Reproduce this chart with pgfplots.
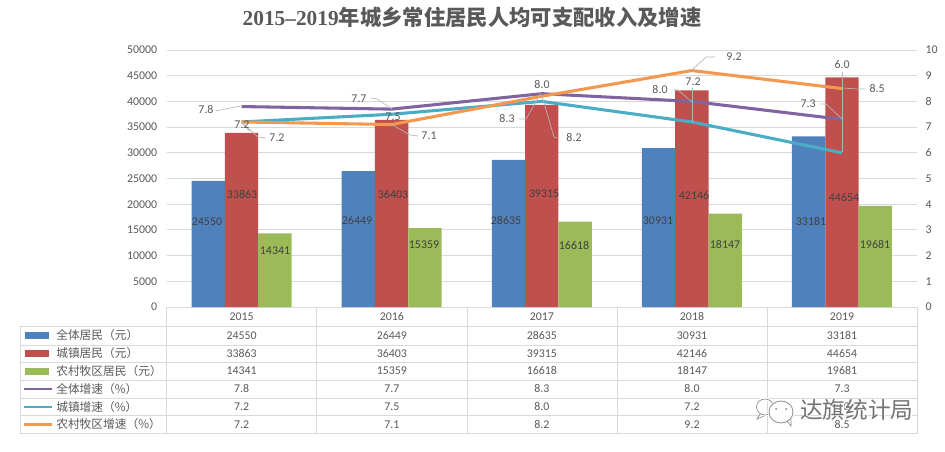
\documentclass[border=0pt]{standalone}
\usepackage{fontspec}
\setmainfont{Carlito}
\newfontfamily\cjk{Noto Sans CJK SC}
\newfontfamily\cjkhalo[FakeBold=5]{Noto Sans CJK SC}
\newfontfamily\titlelatin{Liberation Serif}
\usepackage{pgfplots}
\pgfplotsset{compat=1.18}
\usepackage{pgfplotstable}

\definecolor{cAll}{HTML}{4F81BD}
\definecolor{cUrban}{HTML}{C0504D}
\definecolor{cRural}{HTML}{9BBB59}
\definecolor{cAllG}{HTML}{8064A2}
\definecolor{cUrbanG}{HTML}{4BACC6}
\definecolor{cRuralG}{HTML}{F2994F}
\definecolor{cText}{HTML}{595959}
\definecolor{cGrid}{HTML}{D9D9D9}
\definecolor{cLead}{HTML}{B5B5B5}

\pgfplotstableread{
x  all   urban rural gall gurban grural
0  24550 33863 14341 7.8  7.2    7.2
1  26449 36403 15359 7.7  7.5    7.1
2  28635 39315 16618 8.3  8.0    8.2
3  30931 42146 18147 8.0  7.2    9.2
4  33181 44654 19681 7.3  6.0    8.5
}\incomedata

\pgfplotsset{base/.style={
    at={(124.875pt,108pt)}, anchor=south west,
    scale only axis, width=562.875pt, height=192.75pt,
    xmin=-0.5, xmax=4.5, xtick=\empty,
    ymin=0,
    tick style={draw=none},
    axis line style={draw=none},
    y tick label style={font=\fontsize{8.9}{10}\selectfont, text=cText},
    /pgf/number format/assume math mode=true,
    /pgf/number format/1000 sep={},
}}

\begin{document}
\begin{tikzpicture}
\path[use as bounding box] (0,0) rectangle (708.75pt,338.25pt);

% columns on the income scale
\begin{axis}[base,
    ymax=50000, ytick={0,5000,...,50000},
    scaled y ticks=false,
    axis y line*=left,
    ymajorgrids, grid style={cGrid, line width=0.7pt},
    ybar=0pt, bar width=25pt,
    y tick label style={xshift=-3.5pt},
]
\addplot[draw=none, fill=cAll] table[x=x, y=all] {\incomedata};
\addplot[draw=none, fill=cUrban] table[x=x, y=urban] {\incomedata};
\addplot[draw=none, fill=cRural] table[x=x, y=rural] {\incomedata};
\end{axis}

% growth lines on the right scale
\begin{axis}[base,
    ymax=10, ytick={0,1,...,10},
    axis y line*=right,
    axis x line=none,
    y tick label style={xshift=3pt},
    every axis plot/.append style={line width=2.3pt, line join=round, no marks},
]
\addplot[cUrbanG] table[x=x, y=gurban] {\incomedata};
\addplot[cAllG] table[x=x, y=gall] {\incomedata};
\addplot[cRuralG] table[x=x, y=grural] {\incomedata};
\end{axis}

\begin{scope}[x=0.75pt, y=-0.75pt, yshift=338.25pt,
    lbl/.style={font=\fontsize{8.9}{10}\selectfont, text=#1, inner sep=0pt, text height=5.8pt, text depth=0pt},
    lbl/.default=cText,
    lead/.style={cLead, line width=0.5pt},
    cn/.style={font=\cjk\fontsize{8.8}{10}\selectfont, text=cText, inner sep=0pt, anchor=west}]

% title
\node[inner sep=0pt, text=cText] at (472,17)
  {\fontsize{16}{18}\selectfont\titlelatin\bfseries 2015–2019{\cjk\bfseries 年城乡常住居民人均可支配收入及增速}};

% leader lines
\draw[lead] (216,111) -- (240,106);
\draw[lead] (247,129) -- (250,131) -- (241,122);
\draw[lead] (266,138) -- (258,137) -- (241,122);
\draw[lead] (371,98) -- (377,99) -- (392,109);
\draw[lead] (418,136) -- (410,135) -- (391,124);
\draw[lead] (519,119) -- (526,119) -- (541,93);
\draw[lead] (557,138) -- (554,137) -- (542,96);
\draw[lead] (715,57) -- (706,57) -- (692,70);
\draw[lead] (673,90) -- (678,90) -- (692,102);
\draw[lead] (692,88) -- (692,122);
\draw[lead] (842,72) -- (842,152);
\draw[lead] (820,104) -- (826,104) -- (842,119);
\draw[lead] (865,89) -- (858,89) -- (842,88);

% growth labels
\foreach \x/\y/\t in {206/110/7.8, 242/125/7.2, 277/138/7.2,
    359/99/7.7, 393/117/7.5, 429/136/7.1,
    507/119/8.3, 542/85/8.0, 574/138/8.2,
    660/90/8.0, 693/82/7.2, 734/57/9.2,
    808/104/7.3, 842/65/6.0, 877/89/8.5}
  \node[lbl] at (\x,\y) {\t};

% value labels on the columns
\foreach \x/\y/\t in {207/222/24550, 242/195/33863, 275/251/14341,
    357/221/26449, 393/195/36403, 424/245/15359,
    506/221/28635, 544/194/39315, 574/246/16618,
    658/221/30931, 694/196/42146, 725/245/18147,
    811/222/33181, 844/198/44654, 875/245/19681}
  \node[lbl=black!75] at (\x,\y) {\t};

% data table
\draw[cGrid, line width=0.7pt] (20,326.7) rectangle (917,433);
\foreach \y in {345,362.5,380.5,398,415.5}
  \draw[cGrid, line width=0.7pt] (20,\y) -- (917,\y);
\foreach \x in {166.5,316.7,467.5,617,767,917}
  \draw[cGrid, line width=0.7pt] (\x,307) -- (\x,433);

\foreach \x/\yr/\a/\b/\c/\d/\e/\f in {
    241.6/2015/24550/33863/14341/7.8/7.2/7.2,
    391.8/2016/26449/36403/15359/7.7/7.5/7.1,
    541.8/2017/28635/39315/16618/8.3/8.0/8.2,
    692/2018/30931/42146/18147/8.0/7.2/9.2,
    842/2019/33181/44654/19681/7.3/6.0/8.5} {
  \node[lbl] at (\x,317) {\yr};
  \node[lbl] at (\x,335.5) {\a};
  \node[lbl] at (\x,353.5) {\b};
  \node[lbl] at (\x,371) {\c};
  \node[lbl] at (\x,389) {\d};
  \node[lbl] at (\x,407) {\e};
  \node[lbl] at (\x,424.5) {\f};
}

% legend keys in the table
\fill[cAll] (25,332) rectangle (49,339);
\fill[cUrban] (25,350) rectangle (49,357);
\fill[cRural] (25,367.5) rectangle (49,374.5);
\draw[cAllG, line width=1.8pt] (24,389) -- (52,389);
\draw[cUrbanG, line width=1.8pt] (24,407) -- (52,407);
\draw[cRuralG, line width=1.8pt] (24,424.5) -- (52,424.5);
\node[cn] at (56,335.5) {全体居民（元）};
\node[cn] at (56,353.5) {城镇居民（元）};
\node[cn] at (56,371) {农村牧区居民（元）};
\node[cn] at (56,389) {全体增速（\%）};
\node[cn] at (56,407) {城镇增速（\%）};
\node[cn] at (56,424.5) {农村牧区增速（\%）};

% watermark
\node[inner sep=0pt, anchor=west, text=white] at (800,410)
  {\cjkhalo\fontsize{17}{19}\selectfont 达旗统计局};
\node[inner sep=0pt, anchor=west, text=black!55] at (800,410)
  {\cjk\fontsize{17}{19}\selectfont 达旗统计局};
\draw[white, line width=2.2pt] (765,407) ellipse (8.5 and 8);
\draw[black!45, line width=0.5pt] (765,407) ellipse (8.5 and 8);
\draw[black!45, line width=0.5pt] (760,414) -- (757,419) -- (764,416);
\draw[white, line width=2pt, fill=white] (781,412) ellipse (12 and 11);
\draw[black!45, line width=0.6pt] (781,412) ellipse (12 and 11);
\draw[black!45, line width=0.5pt] (787,421) -- (791,426) -- (791,419);
\fill[black!50] (776,409) circle (1);
\fill[black!50] (786,409) circle (1);
\end{scope}
\end{tikzpicture}
\end{document}
